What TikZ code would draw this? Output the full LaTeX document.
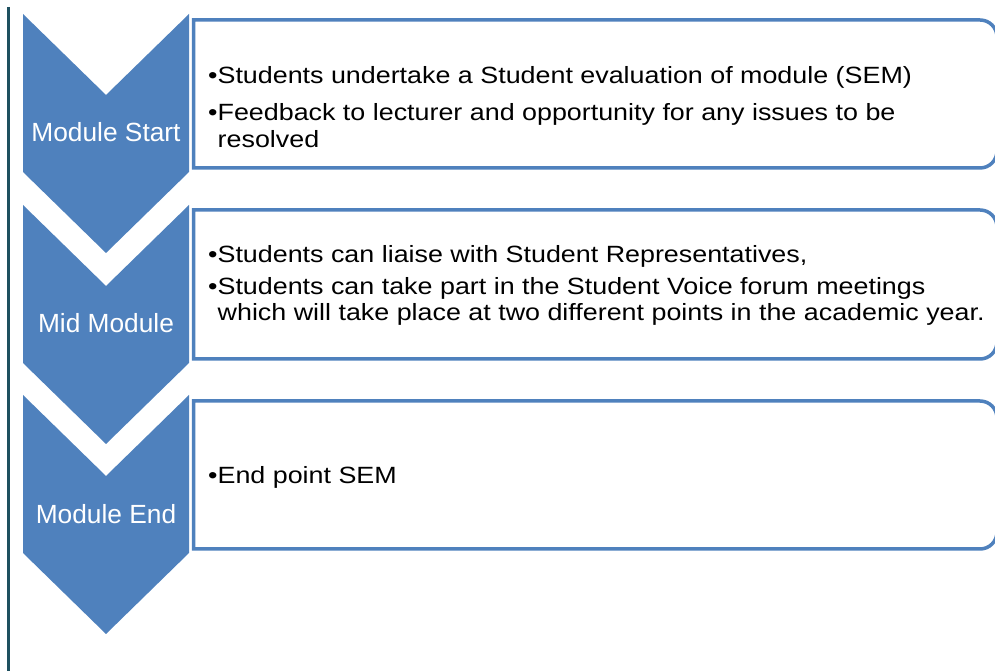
\documentclass[tikz,border=0pt]{standalone}
\usepackage{fontspec}
\setmainfont{Liberation Sans}
\newfontfamily\bodyfont[FakeStretch=1.143]{Liberation Sans}
\definecolor{chevblue}{RGB}{79,129,189}
\definecolor{rulecol}{RGB}{30,80,95}
\begin{document}
\begin{tikzpicture}[x=1pt,y=1pt,
  chev/.style={fill=chevblue,draw=none},
  chevlabel/.style={text=white,font=\fontsize{26.3}{30}\selectfont,anchor=base,inner sep=0pt},
  boxline/.style={draw=chevblue,line width=3.5pt,fill=white},
  bline/.style={anchor=base west,inner sep=0pt,font=\bodyfont\fontsize{23.5}{28}\selectfont,text=black}]
\clip (0,0) rectangle (995,671);
% left rule
\coordinate (rtop) at (8.5,664);
\coordinate (rbot) at (8.5,-2);
\draw[rulecol,line width=2.5pt] (rtop) -- (rbot);
% chevrons
\fill[chev] (23,657) -- (106,576) -- (189,657) -- (189,499) -- (106,418) -- (23,499) -- cycle;
\fill[chev] (23,466) -- (106,385) -- (189,466) -- (189,308) -- (106,227) -- (23,308) -- cycle;
\fill[chev] (23,276) -- (106,195) -- (189,276) -- (189,118) -- (106,37) -- (23,118) -- cycle;
\node[chevlabel] (l1) at (106,529) {Module Start};
\node[chevlabel] (l2) at (106,338) {Mid Module};
\node[chevlabel] (l3) at (106,147) {Module End};
% boxes
\draw[boxline] (193.5,503) -- (193.5,651) -- (980,651) arc[start angle=90,end angle=0,radius=17] -- (997,520) arc[start angle=0,end angle=-90,radius=17] -- cycle;
\draw[boxline] (193.5,312) -- (193.5,461) -- (980,461) arc[start angle=90,end angle=0,radius=17] -- (997,329) arc[start angle=0,end angle=-90,radius=17] -- cycle;
\draw[boxline] (193.5,122) -- (193.5,270) -- (980,270) arc[start angle=90,end angle=0,radius=17] -- (997,139) arc[start angle=0,end angle=-90,radius=17] -- cycle;
% texts
\node[bline] (t1a) at (208,587) {•Students undertake a Student evaluation of module (SEM)};
\node[bline] (t1b) at (208,550) {•Feedback to lecturer and opportunity for any issues to be};
\node[bline] (t1c) at (217.5,523) {resolved};
\node[bline] (t2a) at (208,408) {•Students can liaise with Student Representatives,};
\node[bline] (t2b) at (208,376) {•Students can take part in the Student Voice forum meetings};
\node[bline] (t2c) at (217.5,350) {which will take place at two different points in the academic year.};
\node[bline] (t3a) at (208,187) {•End point SEM};
\end{tikzpicture}
\end{document}
